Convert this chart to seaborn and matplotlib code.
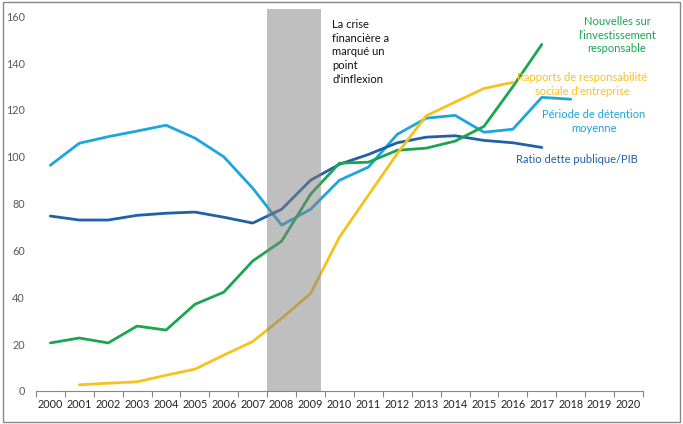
import numpy as np
import pandas as pd
import matplotlib
matplotlib.use("Agg")
import matplotlib.pyplot as plt
import seaborn as sns
from matplotlib.patches import Rectangle

# data
years = list(range(2000, 2021))

detention_years = list(range(2000, 2019))
detention = [96.4, 105.8, 108.6, 111, 113.5, 108, 100, 86.6, 70.8, 77.6,
             90, 95.6, 109.6, 116.5, 117.7, 110.5, 111.8, 125.4, 124.6]

dette_years = list(range(2000, 2018))
dette = [74.7, 73, 73, 75, 75.9, 76.4, 74.2, 71.7, 77.6, 90,
         96.8, 101, 106, 108.4, 109, 107, 106, 104]

nouvelles_years = list(range(2000, 2018))
nouvelles = [20.5, 22.6, 20.5, 27.7, 26, 37, 42.2, 55.5, 64, 84,
             97.3, 97.7, 102.8, 103.7, 106.7, 113, 130, 148]

rapports_years = list(range(2001, 2017))
rapports = [2.6, 3.3, 3.9, 6.7, 9.3, 15.3, 21.1, 31, 41.6, 65.7,
            83.6, 101.4, 117.5, 123.4, 129.2, 131.8]

crise_start, crise_end = 2007.5, 2009.36

names = ["Période de détention moyenne", "Ratio dette publique/PIB",
         "Nouvelles sur l'investissement responsable",
         "Rapports de responsabilité sociale d'entreprise"]
colors = ["#1DA5DE", "#1F60A8", "#1AA54F", "#F7C21D"]

frames = []
for n, xs, ys in zip(names, [detention_years, dette_years, nouvelles_years, rapports_years],
                     [detention, dette, nouvelles, rapports]):
    frames.append(pd.DataFrame({"annee": xs, "valeur": ys, "serie": n}))
df = pd.concat(frames, ignore_index=True)

sns.set_style("white")
plt.rcParams['font.family'] = ['Lato', 'DejaVu Sans']

fig = plt.figure(figsize=(6.83, 4.24), dpi=100)
ax = fig.add_axes([0.0526, 0.078, 0.8888, 0.9])

sns.lineplot(data=df, x="annee", y="valeur", hue="serie", hue_order=names,
             palette=colors, linewidth=2, legend=False, ax=ax)

# shaded crisis band, on top of the lines
ax.axvspan(crise_start, crise_end, ymin=0, ymax=1, color="#808080", alpha=0.5,
           lw=0, zorder=5)

ax.set_xlim(1999.5, 2020.5)
ax.set_ylim(0, 163)
ax.set_yticks(range(0, 161, 20))
ax.set_xticks(years)
ax.set_xticks(np.arange(1999.5, 2020.6, 1), minor=True)
ax.set_xticklabels([str(y) for y in years], fontsize=7.8, color="#222222")
ax.tick_params(axis="x", which="major", length=0, pad=6)
ax.tick_params(axis="x", which="minor", length=4, color="#868686", width=0.8, bottom=True)
ax.tick_params(axis="y", length=0, labelsize=7.8, labelcolor="#595959", pad=8)
ax.set_xlabel("")
ax.set_ylabel("")
for s in ["top", "right", "left"]:
    ax.spines[s].set_visible(False)
ax.spines["bottom"].set_color("#868686")
ax.spines["bottom"].set_linewidth(0.8)

fs = 8
ax.text(2009.75, 144.8, "La crise\nfinancière a\nmarqué un\npoint\nd'inflexion",
        fontsize=fs, color="#111111", va="center", ha="left", linespacing=1.3)

ax.text(2019.6, 152, "Nouvelles sur\nl\u2019investissement\nresponsable",
        fontsize=fs, color=colors[2], va="center", ha="center", linespacing=1.3)
ax.text(2018.39, 131, "Rapports de responsabilité\nsociale d'entreprise",
        fontsize=fs, color=colors[3], va="center", ha="center", linespacing=1.3)
ax.text(2018.81, 115, "Période de détention\nmoyenne",
        fontsize=fs, color=colors[0], va="center", ha="center", linespacing=1.3)
ax.text(2018.23, 98.7, "Ratio dette publique/PIB",
        fontsize=fs, color=colors[1], va="center", ha="center")

fig.patches.append(Rectangle((0.004, 0.005), 0.992, 0.99, transform=fig.transFigure,
                             fill=False, edgecolor="#888888", lw=1))

fig.savefig("out.png", dpi=100)
